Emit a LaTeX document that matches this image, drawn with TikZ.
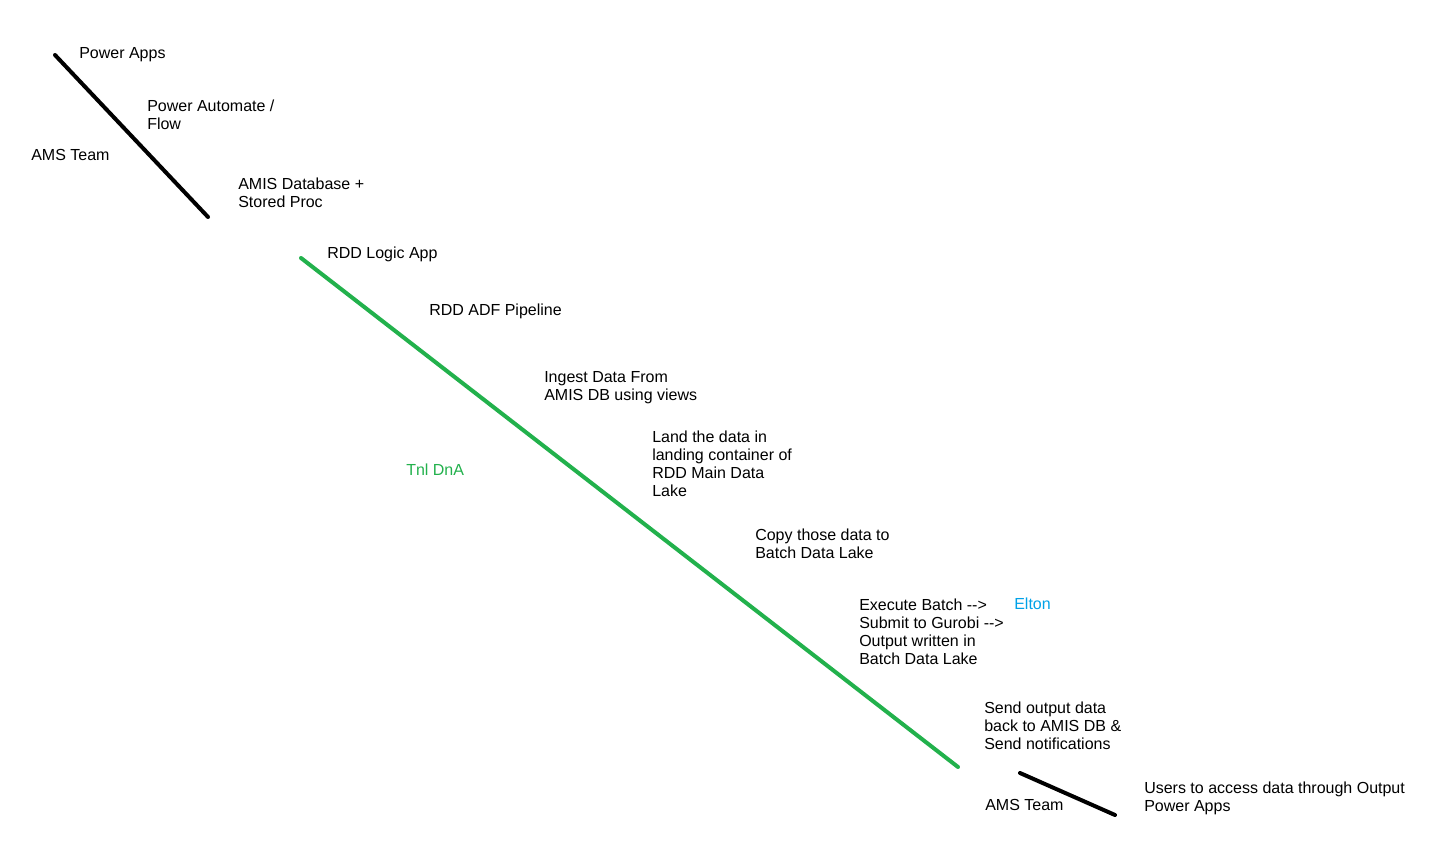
\documentclass[tikz,border=0pt]{standalone}
\usepackage{fontspec}
\setmainfont{Liberation Sans}
\usepackage{xcolor}
\definecolor{paintgreen}{RGB}{34,177,76}
\definecolor{paintblue}{RGB}{0,162,232}
\begin{document}
\begin{tikzpicture}[x=0.75pt,y=-0.75pt,
    txt/.style={anchor=north west, inner sep=0pt, align=left, font=\fontsize{12}{13.5}\selectfont},
    stroke/.style={line width=3pt, line cap=round}]
    % Page
    \fill[white] (0,0) rectangle (1445,845);
    \useasboundingbox (0,0) rectangle (1445,845);
    % Strokes
    \coordinate (amsA) at (55,55);
    \coordinate (amsB) at (208,217);
    \coordinate (dnaA) at (301,258);
    \coordinate (dnaB) at (958,767);
    \coordinate (outA) at (1020,773);
    \coordinate (outB) at (1115,815);
    \draw[stroke, black] (amsA) -- (amsB); % AMS side
    \draw[stroke, paintgreen] (dnaA) -- (dnaB); % DnA side
    \draw[stroke, black] (outA) -- (outB); % back to AMS
    % Labels along the first stroke
    \node[txt] (powerapps) at (79,47) {Power Apps};
    \node[txt] (automate) at (147,100) {Power Automate /\\Flow};
    \node[txt] (amsteam) at (31,149) {AMS Team};
    \node[txt] (amisdb) at (238,178) {AMIS Database +\\Stored Proc};
    % Labels along the green stroke
    \node[txt] (logicapp) at (327,247) {RDD Logic App};
    \node[txt] (adf) at (429,304) {RDD ADF Pipeline};
    \node[txt] (ingest) at (544,371) {Ingest Data From\\AMIS DB using views};
    \node[txt] (land) at (652,431) {Land the data in\\landing container of\\RDD Main Data\\Lake};
    \node[txt, text=paintgreen] (tnldna) at (406,464) {Tnl DnA};
    \node[txt] (copy) at (755,529) {Copy those data to\\Batch Data Lake};
    \node[txt] (execute) at (859,599) {Execute Batch -{}->\\Submit to Gurobi -{}->\\Output written in\\Batch Data Lake};
    \node[txt, text=paintblue] (elton) at (1014,598) {Elton};
    \node[txt] (sendout) at (984,702) {Send output data\\back to AMIS DB \&\\Send notifications};
    % Labels along the last stroke
    \node[txt] (amsteamb) at (985,799) {AMS Team};
    \node[txt] (users) at (1144,782) {Users to access data through Output\\Power Apps};
\end{tikzpicture}
\end{document}
